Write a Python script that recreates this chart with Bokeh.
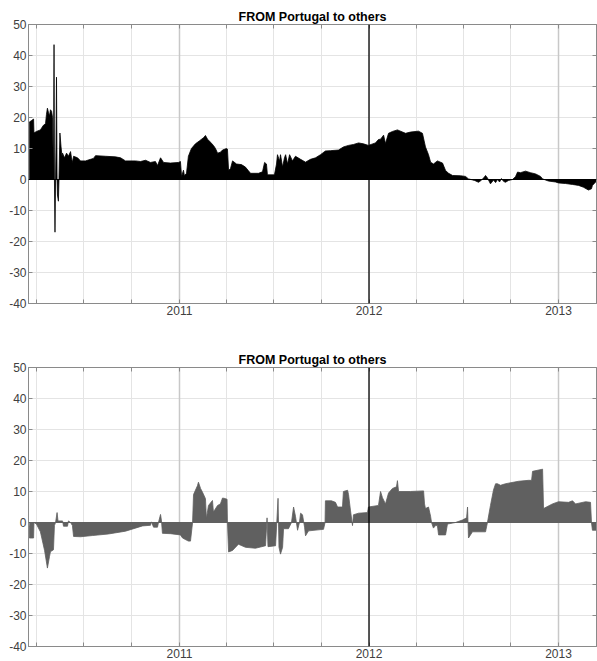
from bokeh.plotting import figure
from bokeh.models import Range1d, LinearAxis, FixedTicker, CustomJSTickFormatter, Span
from bokeh.layouts import column
from bokeh.embed import file_html
from bokeh.resources import INLINE

TITLE = "FROM Portugal to others"
y_ticks = [-40, -30, -20, -10, 0, 10, 20, 30, 40, 50]
quarter_ticks = [2010.247, 2010.496, 2010.748, 2011.0, 2011.247, 2011.496, 2011.748,
                 2012.0, 2012.249, 2012.497, 2012.749, 2013.0]
year_ticks = [2011, 2013]
marker_year = 2012
t_start, t_end = 2010.2032, 2013.2005
y_lo, y_hi = -40, 50

# time in decimal years
top_t = [2010.207, 2010.219, 2010.230, 2010.232, 2010.245, 2010.266, 2010.282, 2010.293,
         2010.298, 2010.303, 2010.309, 2010.314, 2010.319, 2010.325, 2010.330, 2010.335,
         2010.338, 2010.340, 2010.343, 2010.346, 2010.348, 2010.351, 2010.354, 2010.356,
         2010.361, 2010.364, 2010.369, 2010.375, 2010.380, 2010.383, 2010.393, 2010.404,
         2010.414, 2010.425, 2010.430, 2010.435, 2010.441, 2010.462, 2010.478, 2010.504,
         2010.530, 2010.546, 2010.557, 2010.609, 2010.662, 2010.689, 2010.715, 2010.768,
         2010.794, 2010.821, 2010.847, 2010.873, 2010.884, 2010.900, 2010.916, 2010.952,
         2010.995, 2011.005, 2011.011, 2011.021, 2011.026, 2011.037, 2011.047, 2011.063,
         2011.084, 2011.106, 2011.127, 2011.137, 2011.148, 2011.164, 2011.179, 2011.190,
         2011.201, 2011.216, 2011.227, 2011.248, 2011.253, 2011.259, 2011.269, 2011.280,
         2011.301, 2011.327, 2011.348, 2011.364, 2011.375, 2011.417, 2011.438, 2011.449,
         2011.459, 2011.464, 2011.501, 2011.512, 2011.517, 2011.528, 2011.533, 2011.544,
         2011.554, 2011.560, 2011.570, 2011.581, 2011.596, 2011.612, 2011.639, 2011.665,
         2011.691, 2011.718, 2011.744, 2011.770, 2011.797, 2011.839, 2011.865, 2011.892,
         2011.918, 2011.945, 2011.971, 2011.997, 2012.034, 2012.050, 2012.061, 2012.077,
         2012.087, 2012.103, 2012.124, 2012.150, 2012.193, 2012.219, 2012.261, 2012.282,
         2012.298, 2012.314, 2012.325, 2012.340, 2012.361, 2012.388, 2012.404, 2012.420,
         2012.441, 2012.483, 2012.509, 2012.525, 2012.557, 2012.578, 2012.594, 2012.609,
         2012.615, 2012.625, 2012.641, 2012.657, 2012.668, 2012.678, 2012.689, 2012.699,
         2012.710, 2012.720, 2012.736, 2012.757, 2012.773, 2012.784, 2012.799, 2012.826,
         2012.852, 2012.879, 2012.905, 2012.916, 2012.947, 2012.984, 2013.000, 2013.037,
         2013.074, 2013.106, 2013.132, 2013.158, 2013.174, 2013.179, 2013.204]
top_v = [18.5, 19.0, 19.5, 15.0, 15.5, 16.0, 17.5, 18.0,
         21.0, 23.0, 21.5, 20.5, 22.5, 22.0, 20.0, 0.0,
         43.5, 0.0, -17.0, 0.0, 10.0, 33.0, 0.0, -5.0,
         -7.0, 0.0, 15.0, 10.5, 7.5, 8.5, 7.0, 8.5,
         7.5, 9.0, 7.0, 5.5, 7.5, 7.0, 6.0, 6.0,
         6.5, 6.8, 7.7, 7.5, 7.3, 7.0, 6.0, 6.0,
         5.8, 6.2, 5.5, 5.8, 4.5, 7.0, 5.5, 5.3,
         5.5, 5.8, 1.0, 3.0, 1.2, 2.0, 7.5, 10.0,
         11.5, 12.5, 13.5, 14.2, 13.0, 12.0, 11.0, 10.0,
         8.5, 8.8, 9.5, 10.0, 9.8, 3.0, 3.5, 6.0,
         5.0, 4.8, 4.0, 2.8, 2.0, 2.0, 2.5, 5.5,
         5.0, 1.5, 1.5, 5.0, 8.0, 6.0, 8.0, 4.0,
         7.0, 8.0, 5.0, 8.0, 6.0, 7.5, 6.5, 5.6,
         6.5, 7.0, 8.0, 9.2, 9.3, 9.5, 10.5, 11.0,
         11.3, 11.8, 11.5, 11.0, 11.8, 12.9, 13.0, 14.3,
         11.6, 14.9, 15.5, 16.0, 14.9, 15.3, 15.6, 14.9,
         10.5, 8.0, 5.6, 5.0, 6.0, 5.3, 2.9, 2.0,
         1.3, 1.2, 1.0, 0.2, -0.3, -0.9, -0.2, 0.8,
         1.3, 0.5, -1.4, -0.2, -1.0, 0.0, -0.8, 0.3,
         -0.6, -0.9, -0.3, 0.0, 0.9, 2.4, 2.2, 2.7,
         2.2, 1.8, 1.0, 0.2, -0.5, -0.8, -1.1, -1.3,
         -1.6, -1.9, -2.5, -3.4, -3.0, -1.9, -0.3]

bot_t = [2010.207, 2010.208, 2010.230, 2010.232, 2010.245, 2010.266, 2010.288, 2010.303,
         2010.314, 2010.319, 2010.335, 2010.340, 2010.346, 2010.354, 2010.359, 2010.383,
         2010.388, 2010.409, 2010.414, 2010.425, 2010.435, 2010.441, 2010.478, 2010.541,
         2010.625, 2010.715, 2010.805, 2010.847, 2010.852, 2010.863, 2010.884, 2010.889,
         2010.900, 2010.905, 2010.910, 2010.952, 2011.005, 2011.016, 2011.047, 2011.058,
         2011.069, 2011.074, 2011.095, 2011.100, 2011.111, 2011.121, 2011.137, 2011.142,
         2011.153, 2011.174, 2011.179, 2011.201, 2011.216, 2011.227, 2011.243, 2011.251,
         2011.253, 2011.259, 2011.280, 2011.311, 2011.348, 2011.401, 2011.454, 2011.462,
         2011.467, 2011.507, 2011.520, 2011.525, 2011.533, 2011.544, 2011.549, 2011.575,
         2011.591, 2011.602, 2011.612, 2011.623, 2011.633, 2011.639, 2011.649, 2011.660,
         2011.665, 2011.681, 2011.760, 2011.768, 2011.770, 2011.802, 2011.823, 2011.834,
         2011.860, 2011.865, 2011.887, 2011.892, 2011.902, 2011.913, 2011.918, 2011.945,
         2011.992, 2011.997, 2012.050, 2012.061, 2012.071, 2012.087, 2012.103, 2012.124,
         2012.145, 2012.150, 2012.156, 2012.219, 2012.288, 2012.293, 2012.298, 2012.314,
         2012.325, 2012.330, 2012.340, 2012.351, 2012.361, 2012.367, 2012.404, 2012.414,
         2012.456, 2012.493, 2012.515, 2012.520, 2012.525, 2012.546, 2012.615, 2012.625,
         2012.641, 2012.657, 2012.668, 2012.678, 2012.694, 2012.720, 2012.789, 2012.842,
         2012.858, 2012.863, 2012.916, 2012.921, 2012.968, 2013.000, 2013.053, 2013.074,
         2013.090, 2013.143, 2013.169, 2013.174, 2013.179, 2013.204]
bot_v = [-1.0, -5.0, -5.0, 0.0, -0.5, -3.0, -9.0, -14.7,
         -11.0, -9.4, -8.8, -1.0, 0.0, 3.2, 0.5, 0.5,
         -1.2, -1.2, 0.5, 0.0, -1.0, -4.5, -4.6, -4.2,
         -3.7, -2.8, -1.1, -0.9, 0.2, -1.5, -1.5, 0.0,
         2.6, 0.5, -3.5, -3.6, -4.0, -5.0, -6.0, -6.0,
         0.0, 9.0, 11.9, 13.0, 11.0, 9.8, 7.7, 1.3,
         5.5, 7.1, 3.4, 5.5, 6.0, 7.9, 7.7, 7.5,
         0.0, -9.5, -9.0, -7.0, -8.0, -8.3, -7.5, 1.5,
         -7.8, -7.5, 7.8, -8.0, -10.2, -8.0, -2.0, -2.0,
         0.0, 5.0, 2.0, -2.5, 0.0, 3.0, 2.5, -1.5,
         -4.3, -2.7, -2.2, 0.0, 7.0, 7.0, 6.5, 5.0,
         5.0, 10.0, 10.4, 9.0, 4.0, -1.0, 2.5, 3.0,
         3.2, 5.0, 5.5, 10.0, 8.0, 6.0, 9.5, 11.0,
         11.5, 13.5, 10.0, 10.0, 10.2, 6.0, 4.5, 5.0,
         2.0, 0.0, -1.8, -1.0, -1.0, -4.0, -4.0, -0.5,
         0.0, 0.8, 1.5, 5.0, -5.0, -3.0, -3.0, 0.0,
         5.5, 10.5, 12.5, 12.5, 12.0, 12.5, 13.3, 13.6,
         13.6, 16.5, 17.2, 4.5, 6.0, 6.7, 6.5, 7.0,
         6.0, 6.7, 6.5, 0.0, -2.5, -2.5]

FONT = "Liberation Sans"
LABEL_COLOR = "#404040"
BOX_COLOR = "#8a8a8a"


def make_panel(t, v, color, height, border_top, border_bottom):
    p = figure(width=597, height=height,
               x_range=Range1d(t_start, t_end), y_range=Range1d(y_lo, y_hi),
               output_backend="svg", toolbar_location=None,
               min_border_left=28, min_border_right=1,
               min_border_top=border_top, min_border_bottom=border_bottom,
               title=TITLE)
    p.title.align = "center"
    p.title.text_font = FONT
    p.title.text_font_size = "12.5px"
    p.title.text_font_style = "bold"
    p.title.text_color = "#000000"
    p.title.standoff = 2
    p.title.offset = 0

    p.outline_line_color = BOX_COLOR
    p.background_fill_color = "white"
    p.border_fill_color = "white"

    p.xgrid.ticker = FixedTicker(ticks=quarter_ticks)
    p.xgrid.grid_line_color = "#e4e4e4"
    p.ygrid.ticker = FixedTicker(ticks=y_ticks)
    p.ygrid.grid_line_color = "#e4e4e4"

    for yr in year_ticks:
        p.add_layout(Span(location=yr, dimension="height", line_color="#c8c8c8",
                          line_width=1.5, level="underlay"))

    p.varea(x=t, y1=0, y2=v, fill_color=color)
    p.line(x=t, y=v, line_color=color, line_width=0.8)
    p.add_layout(Span(location=0, dimension="width", line_color=color, line_width=1))
    p.add_layout(Span(location=marker_year, dimension="height", line_color="#000000",
                      line_width=1.3))

    xa = p.xaxis[0]
    xa.ticker = FixedTicker(ticks=quarter_ticks)
    xa.formatter = CustomJSTickFormatter(
        code="return Math.abs(tick - Math.round(tick)) < 1e-6 ? tick.toFixed(0) : '';")
    ya = p.yaxis[0]
    ya.ticker = FixedTicker(ticks=y_ticks)
    ya.formatter = CustomJSTickFormatter(code="return tick.toFixed(0);")
    for ax in (xa, ya):
        ax.major_tick_in = 4
        ax.major_tick_out = 0
        ax.minor_tick_line_color = None
        ax.major_tick_line_color = BOX_COLOR
        ax.axis_line_color = BOX_COLOR
        ax.major_label_text_font = FONT
        ax.major_label_text_font_size = "12px"
        ax.major_label_text_color = LABEL_COLOR
    xa.major_label_standoff = 2
    ya.major_label_standoff = 2

    top_ax = LinearAxis(ticker=FixedTicker(ticks=quarter_ticks),
                        major_label_text_font_size="0px", major_label_standoff=0,
                        major_tick_in=4, major_tick_out=0, minor_tick_line_color=None,
                        major_tick_line_color=BOX_COLOR, axis_line_color=BOX_COLOR)
    top_ax.formatter = CustomJSTickFormatter(code="return '';")
    p.add_layout(top_ax, "above")
    right_ax = LinearAxis(ticker=FixedTicker(ticks=y_ticks),
                          major_label_text_font_size="0px", major_label_standoff=0,
                          major_tick_in=4, major_tick_out=0, minor_tick_line_color=None,
                          major_tick_line_color=BOX_COLOR, axis_line_color=BOX_COLOR)
    right_ax.formatter = CustomJSTickFormatter(code="return '';")
    p.add_layout(right_ax, "right")
    return p


p1 = make_panel(top_t, top_v, "#000000", 335, 24, 32)
p2 = make_panel(bot_t, bot_v, "#606060", 326, 32, 15)
p = column(p1, p2)

open("out.html", "w").write(file_html(p, INLINE))
